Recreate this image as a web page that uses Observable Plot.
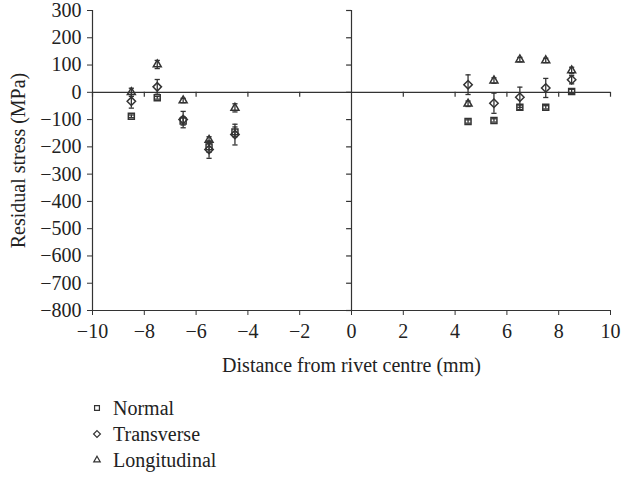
<!DOCTYPE html>
<html>
<head>
<meta charset="utf-8">
<script src="https://cdn.jsdelivr.net/npm/d3@7"></script>
<script src="https://cdn.jsdelivr.net/npm/@observablehq/plot@0.6"></script>
<style>
  body { margin: 0; background: #fff; font-family: "Liberation Serif", "DejaVu Serif", serif; }
  #legend { margin-left: 90px; margin-top: 3px; color: #222; font-size: 20px; }
  #legend .row { display: flex; align-items: center; height: 26px; }
  #legend svg { width: 14px; height: 14px; margin-right: 9px; }
</style>
</head>
<body>
<div id="chart"></div>
<div id="legend"></div>
<script>
const positions = [-8.5, -7.5, -6.5, -5.5, -4.5, 4.5, 5.5, 6.5, 7.5, 8.5];
const normal = [-88, -20, -105, -200, -145, -107, -103, -55, -55, 3];
const normalErr = [5, 5, 15, 20, 18, 6, 6, 8, 6, 8];
const transverse = [-33, 20, -100, -210, -155, 28, -40, -18, 16, 46];
const transverseErr = [25, 27, 30, 32, 38, 36, 37, 37, 35, 15];
const longitudinal = [0, 102, -30, -175, -57, -42, 43, 120, 117, 80];
const longitudinalErr = [15, 15, 8, 12, 15, 10, 10, 8, 8, 12];
const seriesNames = ["Normal", "Transverse", "Longitudinal"];
const xTicks = [-10, -8, -6, -4, -2, 0, 2, 4, 6, 8, 10];
const yTicks = [-800, -700, -600, -500, -400, -300, -200, -100, 0, 100, 200, 300];

const seriesValues = [normal, transverse, longitudinal];
const seriesErrs = [normalErr, transverseErr, longitudinalErr];
const symbolsFor = {Normal: "square2", Transverse: "diamond2", Longitudinal: "triangle2"};

const rows = [];
seriesNames.forEach((name, si) => {
  positions.forEach((x, i) => {
    rows.push({series: name, x, y: seriesValues[si][i], lo: seriesValues[si][i] - seriesErrs[si][i], hi: seriesValues[si][i] + seriesErrs[si][i]});
  });
});

const capSymbol = {
  draw(context, size) {
    const r = Math.sqrt(size / Math.PI);
    context.moveTo(-r, 0);
    context.lineTo(r, 0);
  }
};

const ink = "#333";

const chart = Plot.plot({
  width: 624,
  height: 392,
  marginLeft: 92,
  marginRight: 14,
  marginTop: 10,
  marginBottom: 82,
  style: {fontFamily: "Liberation Serif, DejaVu Serif, serif", fontSize: "20px", color: "#222", background: "#fff"},
  x: {domain: [-10, 10], ticks: xTicks, tickFormat: d3.format("d")},
  y: {domain: [-800, 300], ticks: yTicks, tickFormat: d3.format("d")},
  symbol: {domain: seriesNames, range: seriesNames.map(n => symbolsFor[n])},
  marks: [
    Plot.axisX({ticks: xTicks, tickSize: 5, tickPadding: 8, stroke: ink, label: "Distance from rivet centre (mm)", labelAnchor: "center", labelArrow: "none", labelOffset: 61, fontSize: 20}),
    Plot.axisY({ticks: yTicks, tickSize: 5, tickPadding: 6, stroke: ink, label: "Residual stress (MPa)", labelAnchor: "center", labelArrow: "none", labelOffset: 82, fontSize: 20}),
    Plot.ruleX([-10, 0], {y1: -800, y2: 300, stroke: ink, strokeWidth: 1.2}),
    Plot.ruleY([-800, 0], {x1: -10, x2: 10, stroke: ink, strokeWidth: 1.2}),
    Plot.ruleX(xTicks.filter(d => d !== 0), {y1: 0, y2: -18, stroke: ink, strokeWidth: 1.2}),
    Plot.ruleY(yTicks, {x1: -0.19, x2: 0, stroke: ink, strokeWidth: 1.2}),
    Plot.ruleX(rows, {x: "x", y1: "lo", y2: "hi", stroke: ink, strokeWidth: 1.3}),
    Plot.dot(rows, {x: "x", y: "lo", symbol: capSymbol, r: 2.6, stroke: ink, strokeWidth: 1.3}),
    Plot.dot(rows, {x: "x", y: "hi", symbol: capSymbol, r: 2.6, stroke: ink, strokeWidth: 1.3}),
    Plot.dot(rows, {x: "x", y: "y", symbol: "series", r: 3.8, stroke: ink, fill: "none", strokeWidth: 1.5})
  ]
});
document.getElementById("chart").append(chart);

const legend = document.getElementById("legend");
const shapeFor = {Normal: d3.symbolSquare2, Transverse: d3.symbolDiamond2, Longitudinal: d3.symbolTriangle2};
seriesNames.forEach(name => {
  const row = document.createElement("div");
  row.className = "row";
  const svg = d3.create("svg").attr("viewBox", "-7 -7 14 14");
  svg.append("path").attr("d", d3.symbol(shapeFor[name], 30)()).attr("fill", "none").attr("stroke", ink).attr("stroke-width", 1.2);
  row.append(svg.node());
  const label = document.createElement("span");
  label.textContent = name;
  row.append(label);
  legend.append(row);
});
</script>
</body>
</html>
